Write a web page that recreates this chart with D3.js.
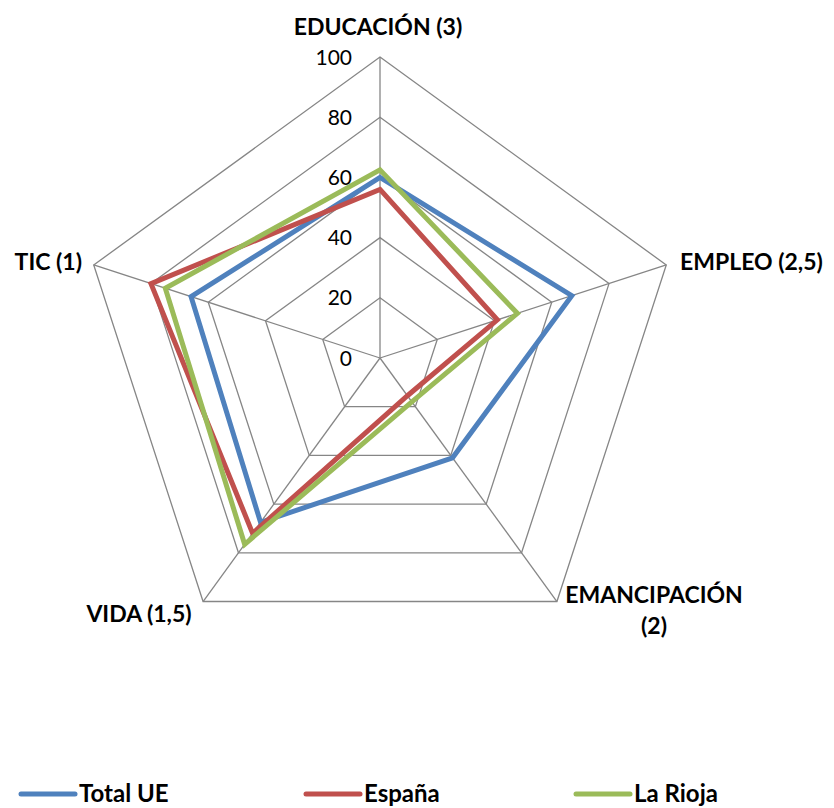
<!doctype html>
<html lang='es'>
  <head>
    <meta charset="utf-8">
    <script src="https://d3js.org/d3.v7.min.js"></script>
    <title>Radar</title>
  <style>
  body {
    margin: 0;
    background-color: white;
  }
  text {
    font-family: Lato, "Open Sans", sans-serif;
    fill: #000;
  }
  .grid {
    fill: none;
    stroke: #868686;
    stroke-width: 1.3;
  }
  .serie {
    fill: none;
    stroke-width: 5;
    stroke-linejoin: miter;
  }
  </style>
  </head>
  <body>
    <div id='chart'></div>
    <script>
    const categories = ['EDUCACIÓN (3)', 'EMPLEO (2,5)', 'EMANCIPACIÓN (2)', 'VIDA (1,5)', 'TIC (1)'];
    const seriesNames = ['Total UE', 'España', 'La Rioja'];
    const totalUE = [60, 67, 41, 67.5, 66];
    const espana = [56, 41, 15.5, 72, 80];
    const laRioja = [62.5, 48, 18, 76.5, 75];
    const tickValues = [0, 20, 40, 60, 80, 100];
    const colors = ['#4F81BD', '#C0504D', '#9BBB59'];

    const series = [totalUE, espana, laRioja];

    const width = 834, height = 808;
    const cx = 380, cy = 358, radius = 301;

    const svg = d3.select('#chart')
                  .append('svg')
                  .attr('width', width)
                  .attr('height', height);

    const rScale = d3.scaleLinear()
                     .domain([0, 100])
                     .range([0, radius]);

    const angle = d3.scaleLinear()
                    .domain([0, categories.length])
                    .range([0, 2 * Math.PI]);

    const g = svg.append('g')
                 .attr('transform', 'translate(' + cx + ',' + cy + ')');

    const ringLine = d3.lineRadial()
                       .angle((d, i) => angle(i))
                       .radius(d => rScale(d))
                       .curve(d3.curveLinearClosed);

    // rings
    g.selectAll('.ring')
     .data(tickValues.slice(1))
     .enter()
     .append('path')
     .attr('class', 'grid')
     .attr('d', v => ringLine(categories.map(() => v)));

    // spokes
    const point = (i, v) => {
      const a = angle(i);
      return [rScale(v) * Math.sin(a), -rScale(v) * Math.cos(a)];
    };

    g.selectAll('.spoke')
     .data(categories)
     .enter()
     .append('line')
     .attr('class', 'grid')
     .attr('x1', 0).attr('y1', 0)
     .attr('x2', (d, i) => point(i, 100)[0])
     .attr('y2', (d, i) => point(i, 100)[1]);

    // tick labels
    g.selectAll('.tick')
     .data(tickValues)
     .enter()
     .append('text')
     .attr('x', -28)
     .attr('y', d => -rScale(d))
     .attr('dy', '0.36em')
     .attr('text-anchor', 'end')
     .style('font-size', '21px')
     .text(d => d);

    // series
    g.selectAll('.serie')
     .data(series)
     .enter()
     .append('path')
     .attr('class', 'serie')
     .attr('stroke', (d, i) => colors[i])
     .attr('d', d => ringLine(d));

    // category labels
    const labelPos = [
      {dx: -2, dy: -323, anchor: 'middle'},
      {dx: 300, dy: -88, anchor: 'start'},
      {dx: 274, dy: 245, anchor: 'middle'},
      {dx: -241, dy: 264, anchor: 'middle'},
      {dx: -298, dy: -88, anchor: 'end'}
    ];

    categories.forEach((c, i) => {
      const p = labelPos[i];
      const t = g.append('text')
                 .attr('x', p.dx)
                 .attr('y', p.dy)
                 .attr('text-anchor', p.anchor)
                 .style('font-size', '23px')
                 .style('font-weight', 'bold');
      if (c === 'EMANCIPACIÓN (2)') {
        t.append('tspan').attr('x', p.dx).text('EMANCIPACIÓN');
        t.append('tspan').attr('x', p.dx).attr('dy', 31).text('(2)');
      } else {
        t.text(c);
      }
    });

    // legend
    const legendX = [21, 306, 576];
    const legend = svg.selectAll('.legend')
                      .data(seriesNames)
                      .enter()
                      .append('g')
                      .attr('transform', (d, i) => 'translate(' + legendX[i] + ',794)');

    legend.append('line')
          .attr('x1', 0).attr('x2', 54)
          .attr('y1', 0).attr('y2', 0)
          .attr('stroke', (d, i) => colors[i])
          .attr('stroke-width', 5)
          .attr('stroke-linecap', 'round');

    legend.append('text')
          .attr('x', 58)
          .attr('y', 8)
          .style('font-size', '24px')
          .style('font-weight', 'bold')
          .text(d => d);
    </script>
  </body>
</html>
